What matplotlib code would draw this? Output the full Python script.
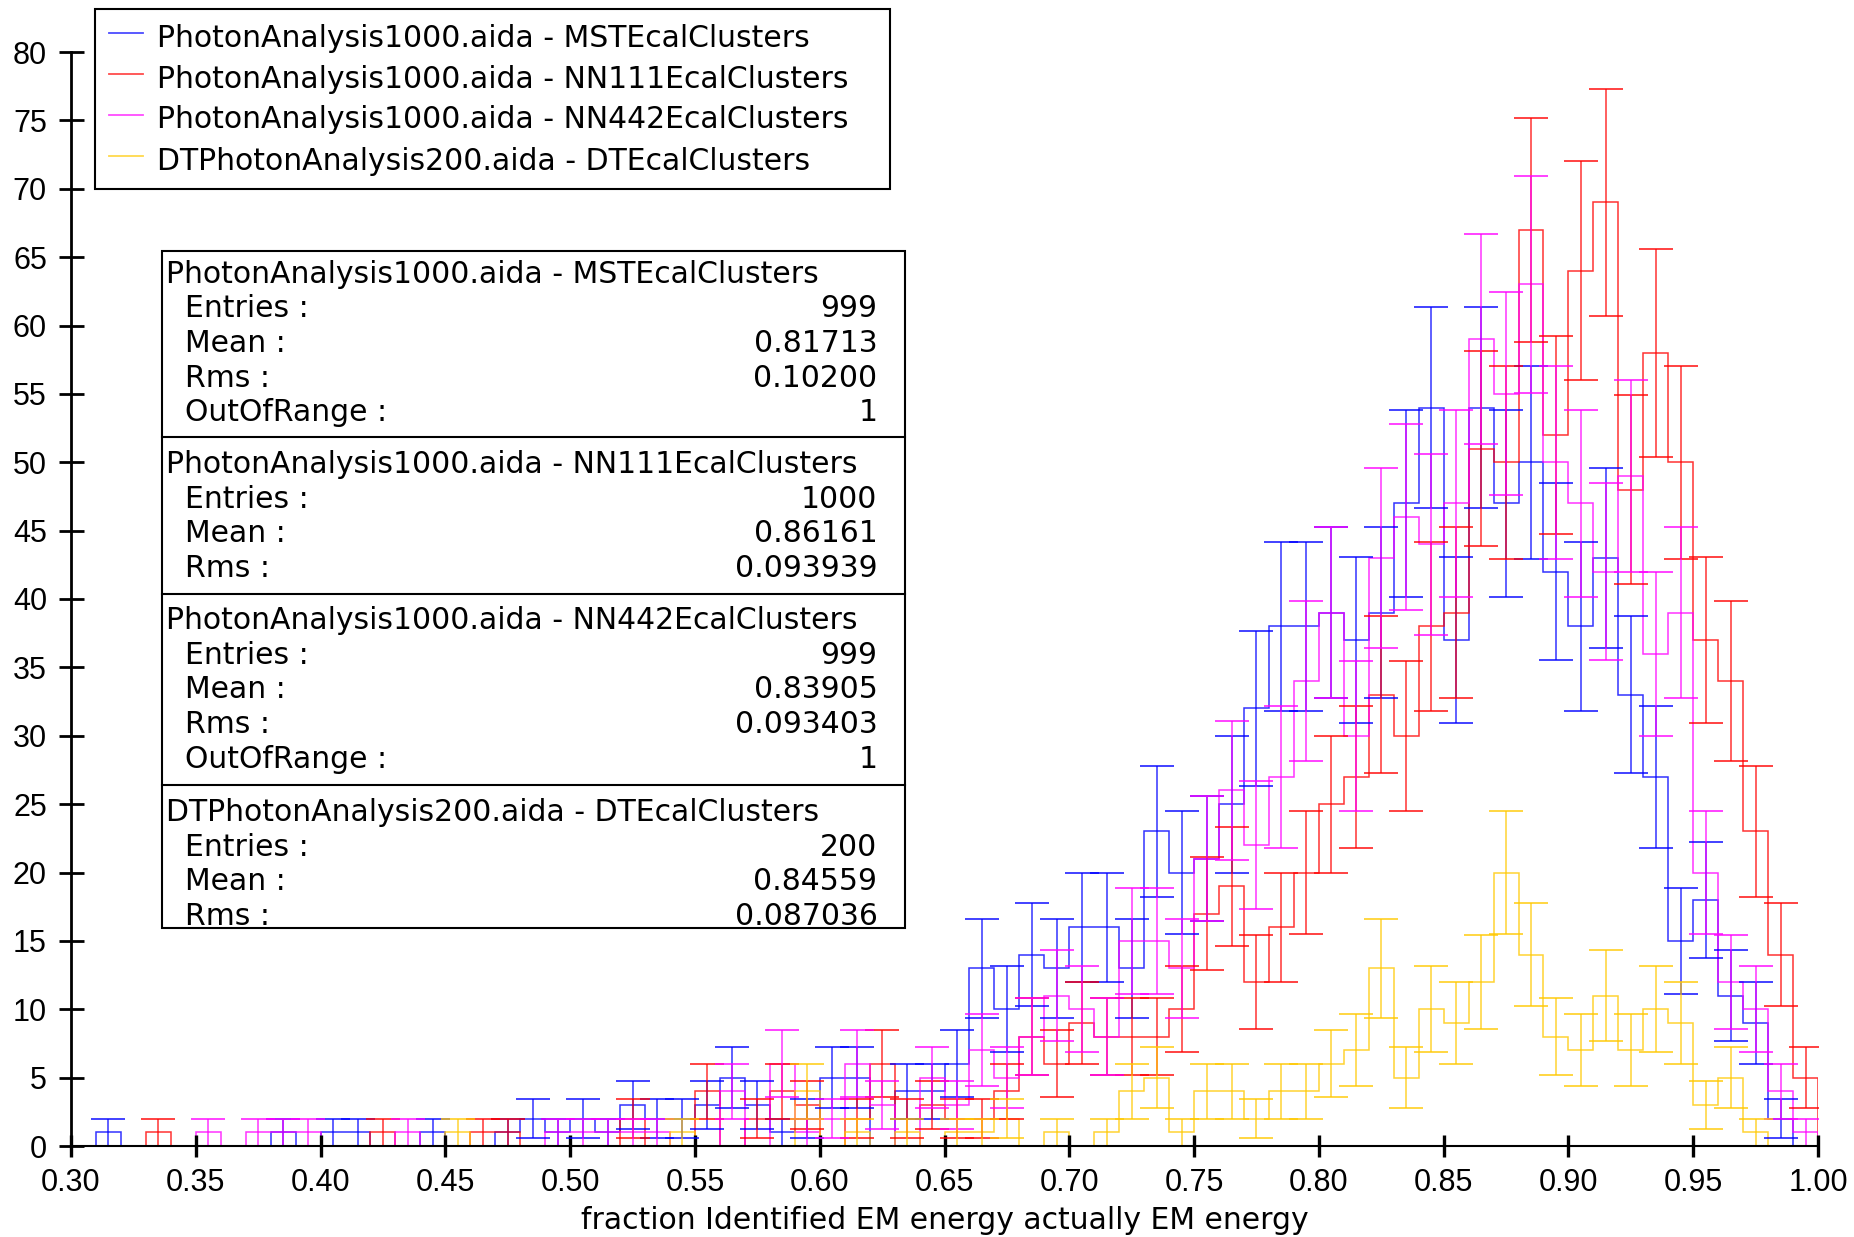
import numpy as np
import matplotlib.pyplot as plt
from matplotlib.patches import Rectangle
from matplotlib.lines import Line2D

plt.rcParams['font.family'] = ['Liberation Sans', 'DejaVu Sans']

W, H = 1854, 1237

# bins of 0.01 from 0.30 to 1.00
edges = np.round(np.linspace(0.30, 1.00, 71), 2)

mst = [0, 1, 0, 0, 0, 0, 0, 0, 1, 0,
       1, 1, 0, 0, 1, 0, 0, 1, 2, 1,
       2, 1, 3, 2, 2, 3, 5, 3, 1, 2,
       5, 5, 0, 4, 4, 6, 13, 10, 14, 13,
       16, 16, 13, 23, 20, 21, 25, 32, 38, 38,
       39, 37, 39, 47, 54, 37, 54, 47, 50, 42,
       38, 43, 33, 27, 15, 18, 11, 9, 2, 0]
nn111 = [0, 0, 0, 1, 0, 0, 0, 0, 0, 0,
         0, 0, 1, 0, 0, 0, 1, 1, 0, 0,
         0, 0, 2, 0, 0, 4, 0, 2, 4, 3,
         0, 2, 6, 2, 3, 2, 2, 4, 8, 6,
         9, 8, 8, 8, 10, 17, 19, 12, 16, 20,
         25, 27, 33, 30, 38, 39, 51, 50, 67, 52,
         64, 69, 48, 58, 50, 37, 34, 23, 14, 5]
nn442 = [0, 0, 0, 0, 0, 1, 0, 1, 1, 1,
         0, 0, 0, 1, 0, 0, 0, 0, 0, 1,
         1, 1, 1, 1, 0, 0, 4, 0, 6, 1,
         2, 6, 3, 0, 5, 3, 7, 5, 8, 11,
         10, 8, 15, 15, 13, 21, 26, 22, 27, 34,
         39, 30, 43, 46, 44, 47, 59, 55, 63, 50,
         47, 42, 49, 36, 39, 20, 12, 10, 4, 1]
dt = [0, 0, 0, 0, 0, 0, 0, 0, 0, 0,
      0, 0, 0, 0, 0, 1, 0, 0, 0, 0,
      0, 0, 0, 0, 1, 0, 0, 0, 0, 4,
      0, 1, 0, 1, 0, 1, 1, 2, 0, 1,
      0, 1, 4, 5, 1, 4, 4, 2, 4, 4,
      6, 7, 13, 5, 10, 9, 12, 20, 14, 8,
      7, 11, 7, 10, 9, 3, 5, 1, 0, 0]

names = ['PhotonAnalysis1000.aida - MSTEcalClusters',
         'PhotonAnalysis1000.aida - NN111EcalClusters',
         'PhotonAnalysis1000.aida - NN442EcalClusters',
         'DTPhotonAnalysis200.aida - DTEcalClusters']
colors = ['#0000ff', '#ff0000', '#ff00ff', '#ffc800']
entries = ['999', '1000', '999', '200']
means = ['0.81713', '0.86161', '0.83905', '0.84559']
rms = ['0.10200', '0.093939', '0.093403', '0.087036']
out_of_range = ['1', None, '1', None]

xticks = [0.30, 0.35, 0.40, 0.45, 0.50, 0.55, 0.60, 0.65,
          0.70, 0.75, 0.80, 0.85, 0.90, 0.95, 1.00]
yticks = list(range(0, 81, 5))

box_font = 'DejaVu Sans'
fs = 21.5


def fx(px):
    return px / W


def fy(py):
    return 1 - py / H


fig = plt.figure(figsize=(W / 100, H / 100), dpi=100)
ax = fig.add_axes([fx(71), fy(1146), (1818 - 71) / W, (1146 - 52) / H])

centers = (edges[:-1] + edges[1:]) / 2
for vals, c in zip([mst, nn111, nn442, dt], colors):
    v = np.array(vals, dtype=float)
    ax.stairs(v, edges, color=c, lw=1.1, alpha=0.8)
    m = v > 0
    ax.errorbar(centers[m], v[m], yerr=np.sqrt(v[m]), fmt='none',
                ecolor=c, elinewidth=1.1, capsize=12.5, capthick=1.3, alpha=0.8)

ax.set_xlim(0.30, 1.00)
ax.set_ylim(0, 80)
ax.set_xticks(xticks)
ax.set_xticklabels([f'{t:.2f}' for t in xticks])
ax.set_yticks(yticks)
for s in ['top', 'right']:
    ax.spines[s].set_visible(False)
ax.spines['left'].set_linewidth(2)
ax.spines['bottom'].set_linewidth(1.5)
ax.spines['left'].set_zorder(5)
ax.spines['bottom'].set_zorder(5)
ax.tick_params(axis='y', direction='inout', length=18, width=2, pad=8.3, labelsize=22)
ax.tick_params(axis='x', direction='inout', length=16.5, width=2.4, pad=7.6, labelsize=22)

fig.text(fx(945), fy(1229), 'fraction Identified EM energy actually EM energy',
         ha='center', va='baseline', fontsize=fs, family=box_font)

# legend box
fig.add_artist(Rectangle((fx(94.6), fy(189)), (890 - 94.6) / W, (189 - 9.3) / H,
                         transform=fig.transFigure, facecolor='white',
                         edgecolor='black', lw=1.5, zorder=10))
leg_base = [46.7, 88.3, 128.5, 170]
for name, c, b in zip(names, colors, leg_base):
    fig.add_artist(Line2D([fx(109), fx(143)], [fy(b - 14), fy(b - 14)],
                          transform=fig.transFigure, color=c, lw=1.3, alpha=0.7, zorder=11))
    fig.text(fx(157), fy(b), name, fontsize=fs, family=box_font,
             va='baseline', ha='left', zorder=11)

# statistics box
fig.add_artist(Rectangle((fx(162), fy(928)), (904.5 - 162) / W, (928 - 251) / H,
                         transform=fig.transFigure, facecolor='white',
                         edgecolor='black', lw=1.5, zorder=10))
for sep in [437, 594, 785]:
    fig.add_artist(Line2D([fx(162), fx(904.5)], [fy(sep), fy(sep)],
                          transform=fig.transFigure, color='black', lw=1.5, zorder=11))

title_base = [282.6, 473, 629, 821]
row_step = 34.7
for i in range(4):
    b = title_base[i]
    fig.text(fx(166), fy(b), names[i], fontsize=fs, family=box_font,
             va='baseline', ha='left', zorder=11)
    rows = [('Entries :', entries[i]), ('Mean :', means[i]), ('Rms :', rms[i])]
    if out_of_range[i] is not None:
        rows.append(('OutOfRange :', out_of_range[i]))
    for j, (lab, val) in enumerate(rows):
        yb = b + row_step * (j + 1)
        fig.text(fx(184.8), fy(yb), lab, fontsize=fs, family=box_font,
                 va='baseline', ha='left', zorder=11)
        fig.text(fx(877.4), fy(yb), val, fontsize=fs, family=box_font,
                 va='baseline', ha='right', zorder=11)

fig.savefig('out.png', dpi=100)
